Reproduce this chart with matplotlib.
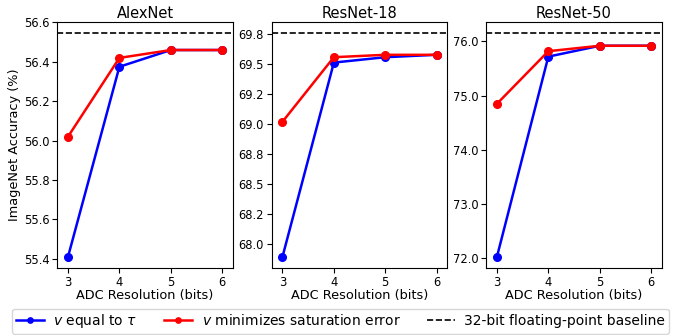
import matplotlib
matplotlib.use("Agg")
import matplotlib.pyplot as plt
import matplotlib.ticker as mticker

bits = [3, 4, 5, 6]
titles = ["AlexNet", "ResNet-18", "ResNet-50"]
v_equal_tau = [
    [55.41, 56.375, 56.46, 56.46],
    [67.89, 69.515, 69.56, 69.58],
    [72.03, 75.72, 75.92, 75.92],
]
v_min_sat = [
    [56.02, 56.42, 56.46, 56.46],
    [69.02, 69.56, 69.58, 69.58],
    [74.85, 75.82, 75.92, 75.92],
]
baseline = [56.545, 69.76, 76.15]
tick_steps = [0.2, 0.25, 1.0]

fig, axes = plt.subplots(1, 3, figsize=(6.81, 3.35), dpi=100)
fig.subplots_adjust(left=0.084, right=0.972, top=0.934, bottom=0.2, wspace=0.22)

for i, ax in enumerate(axes):
    l1, = ax.plot(bits, v_equal_tau[i], color="blue", marker="o", markersize=5.5, linewidth=1.8,
                  label=r"$v$ equal to $\tau$")
    l2, = ax.plot(bits, v_min_sat[i], color="red", marker="o", markersize=5.5, linewidth=1.8,
                  label=r"$v$ minimizes saturation error")
    l3 = ax.axhline(baseline[i], color="black", linestyle="--", linewidth=1.2,
                    label="32-bit floating-point baseline")
    ax.set_xmargin(0.07)
    ax.set_title(titles[i], fontsize=10.5, pad=3)
    ax.set_xlabel("ADC Resolution (bits)", fontsize=9.3, labelpad=0.5)
    ax.set_xticks(bits)
    ax.yaxis.set_major_locator(mticker.MultipleLocator(tick_steps[i]))
    ax.yaxis.set_major_formatter(mticker.FormatStrFormatter("%.1f"))
    ax.tick_params(labelsize=8.3, length=3.5, pad=2)

axes[0].set_ylabel("ImageNet Accuracy (%)", fontsize=9.3, labelpad=2)

fig.legend(handles=[l1, l2, l3], loc="lower center", ncol=3, fontsize=10,
           bbox_to_anchor=(0.5, 0.0), frameon=True, handlelength=2.0,
           columnspacing=1.9, borderpad=0.25, borderaxespad=0.1,
           markerscale=0.7, handletextpad=0.7)

fig.savefig("out.png", dpi=100)
